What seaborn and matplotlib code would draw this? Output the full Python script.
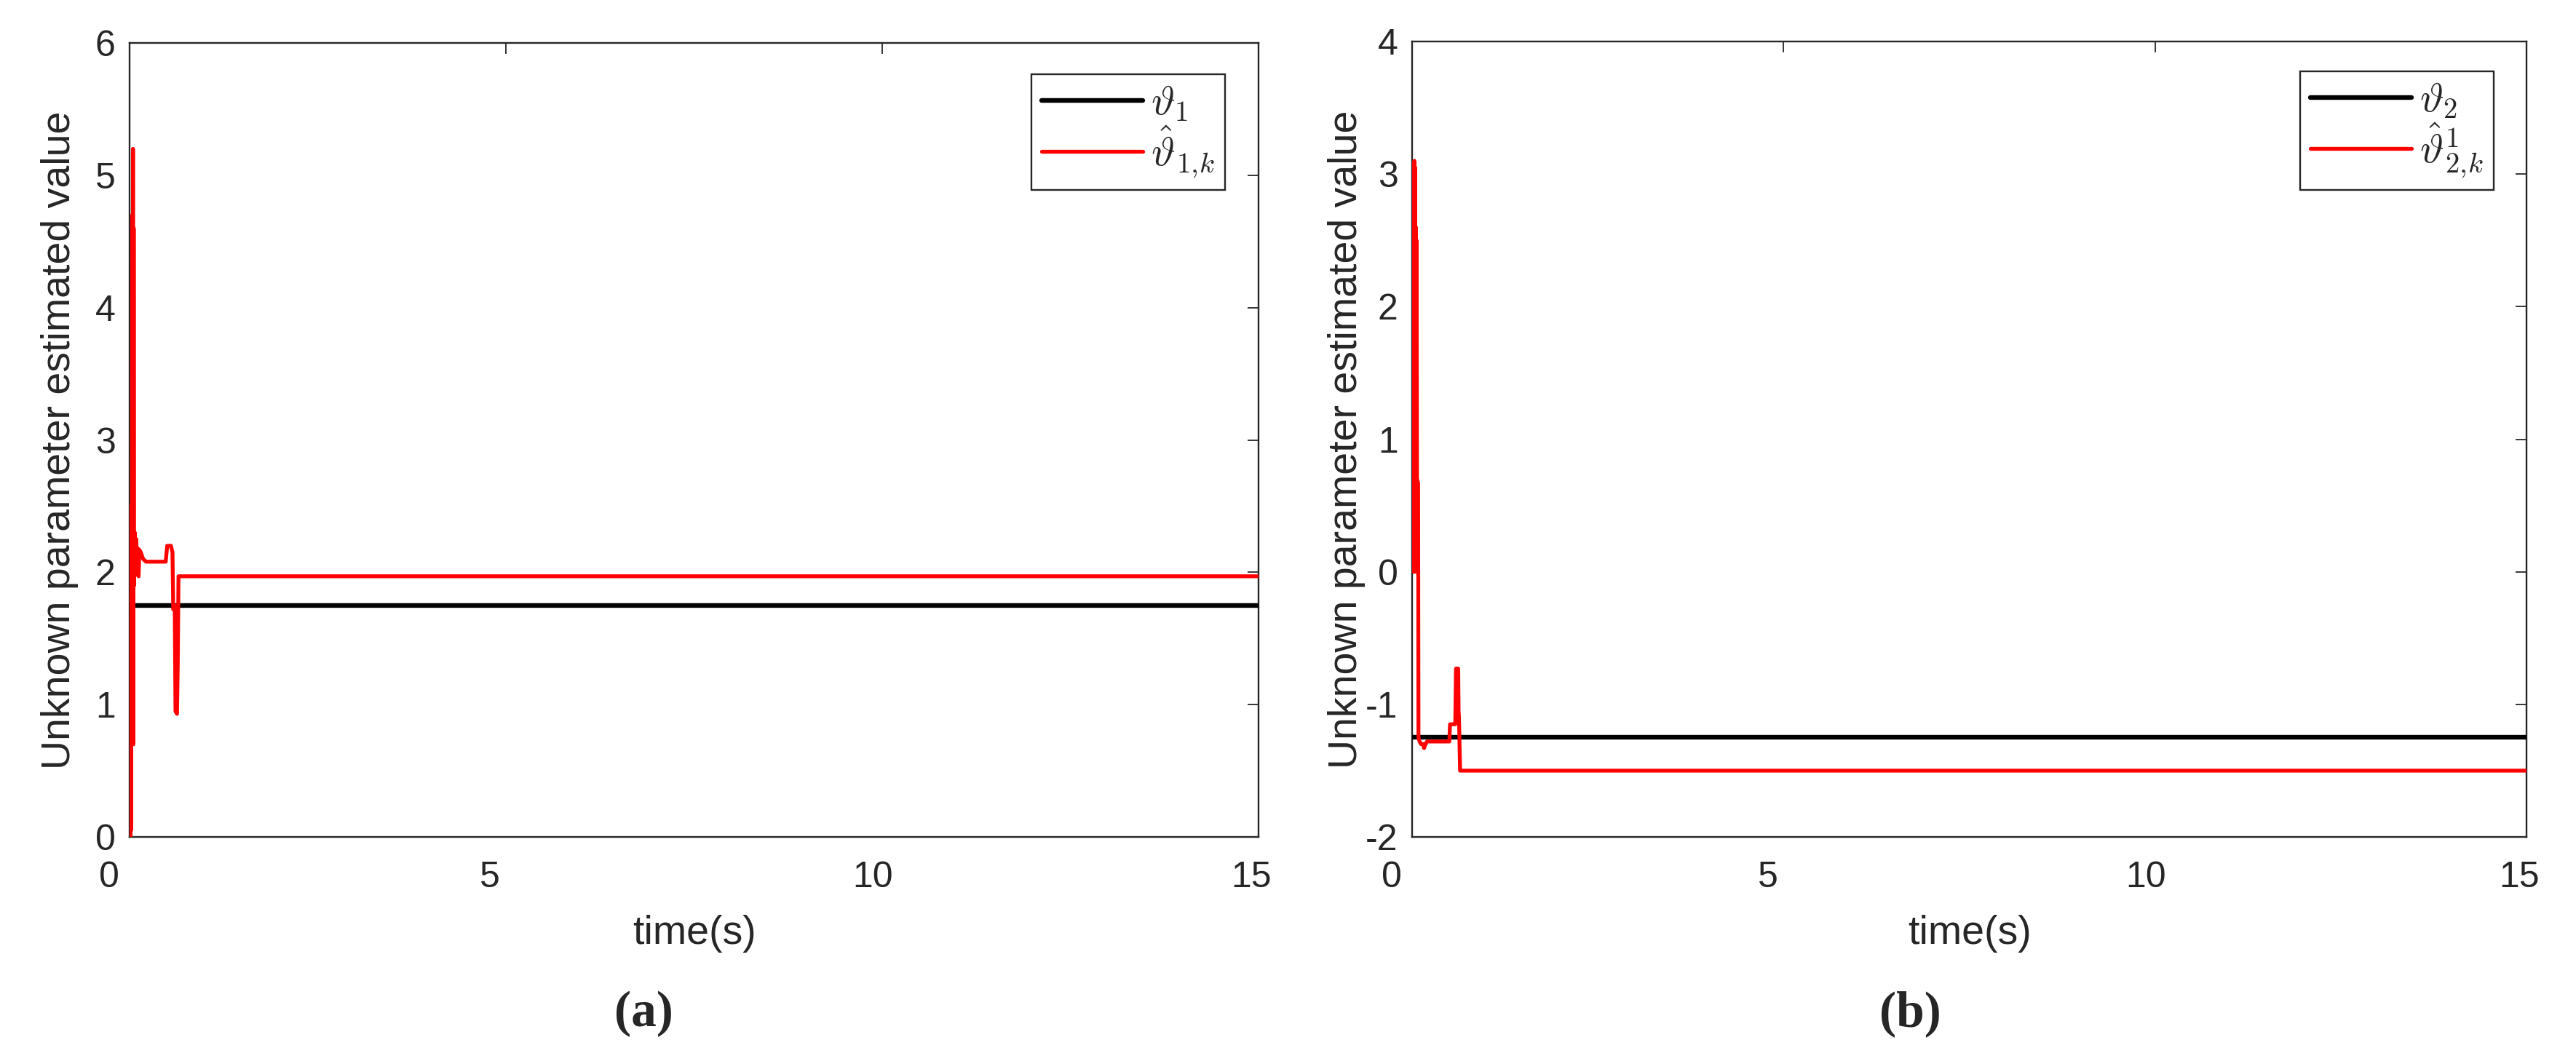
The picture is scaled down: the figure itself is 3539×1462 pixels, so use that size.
import numpy as np
import pandas as pd
import matplotlib
matplotlib.use("Agg")
import matplotlib.pyplot as plt
import matplotlib.transforms as mtransforms
import seaborn as sns

sns.set_theme(style="white")
plt.rcParams['font.family'] = ['Liberation Sans', 'DejaVu Sans']
plt.rcParams['mathtext.fontset'] = 'cm'
plt.rcParams['axes.unicode_minus'] = False

# ---------------- data ----------------
# panel (a): true parameter and its estimate
t_true_a = [0.0, 15.0]
theta1 = [1.75, 1.75]

t_est_a = [0.000, 0.005, 0.010, 0.015, 0.020, 0.025, 0.030, 0.035, 0.040, 0.045,
           0.050, 0.055, 0.060, 0.070, 0.080, 0.090, 0.100, 0.110, 0.120, 0.130,
           0.150, 0.180, 0.220, 0.480, 0.500, 0.550, 0.570, 0.580, 0.600, 0.610,
           0.630, 0.640, 0.650, 15.00]
theta1_hat = [0.00, 2.50, 0.00, 2.45, 0.05, 2.30, 0.70, 4.70, 1.50, 5.20,
              0.70, 4.60, 1.90, 2.30, 1.98, 2.25, 2.00, 2.18, 1.97, 2.17,
              2.15, 2.10, 2.08, 2.08, 2.20, 2.20, 2.15, 1.72, 1.75, 0.95,
              0.93, 1.30, 1.97, 1.97]

# panel (b)
t_true_b = [0.0, 15.0]
theta2 = [-1.25, -1.25]

t_est_b = [0.000, 0.005, 0.010, 0.015, 0.020, 0.025, 0.030, 0.035, 0.040, 0.045,
           0.050, 0.055, 0.060, 0.065, 0.080, 0.085, 0.100, 0.120, 0.150, 0.160,
           0.180, 0.200, 0.500, 0.510, 0.550, 0.580, 0.590, 0.620, 0.625, 0.630,
           0.645, 15.00]
theta2_hat = [2.10, 2.50, 2.15, 2.45, 0.00, 2.60, 3.10, 0.00, 3.05, 0.05,
              2.60, 0.00, 2.50, 0.70, 0.67, -1.25, -1.28, -1.30, -1.30, -1.33,
              -1.30, -1.28, -1.28, -1.15, -1.15, -1.15, -0.73, -0.73, -1.05, -1.10,
              -1.50, -1.50]

x_ticks = [0, 5, 10, 15]
y_ticks_a = [0, 1, 2, 3, 4, 5, 6]
y_ticks_b = [-2, -1, 0, 1, 2, 3, 4]

DARK = '#262626'
# in the original the x tick labels sit a little left of their ticks (inches)
xlabel_nudge = [-0.28, -0.22, -0.13, -0.10]

fig = plt.figure(figsize=(35.39, 14.62), dpi=100)
ax_a = fig.add_axes([0.0503, 0.2134, 0.4383, 0.7462])
ax_b = fig.add_axes([0.5482, 0.2134, 0.4326, 0.7476])


def draw_panel(ax, t_true, v_true, t_est, v_est, lab_true, lab_est, ylim, yticks,
               leg_anchor, ylab_x):
    df_true = pd.DataFrame({'t': t_true, 'v': v_true})
    df_est = pd.DataFrame({'t': t_est, 'v': v_est})
    sns.lineplot(data=df_true, x='t', y='v', ax=ax, color='black', lw=4.6,
                 estimator=None, sort=False, label=lab_true, zorder=3)
    sns.lineplot(data=df_est, x='t', y='v', ax=ax, color='#ff0000', lw=3.8,
                 estimator=None, sort=False, label=lab_est, zorder=3)

    ax.set_xlim(0, 15)
    ax.set_ylim(*ylim)
    ax.set_xticks(x_ticks)
    ax.set_yticks(yticks)
    ax.tick_params(direction='in', length=11, width=1.3, colors=DARK,
                   labelsize=36, top=True, right=True, pad=14)
    ax.tick_params(axis='x', pad=24)
    for lbl, dx in zip(ax.get_xticklabels(), xlabel_nudge):
        shift = mtransforms.ScaledTranslation(dx, 0, fig.dpi_scale_trans)
        lbl.set_transform(lbl.get_transform() + shift)
    for sp in ax.spines.values():
        sp.set_color(DARK)
        sp.set_linewidth(1.7)

    ax.set_xlabel('time(s)', fontsize=40, color=DARK)
    ax.set_ylabel('Unknown parameter estimated value', fontsize=40, color=DARK)
    ax.xaxis.label.set_va('center')
    ax.xaxis.set_label_coords(0.5, -0.122)
    ax.yaxis.label.set_va('center')
    ax.yaxis.set_label_coords(ylab_x, 0.5)

    leg = ax.legend(loc='upper right', bbox_to_anchor=leg_anchor, borderaxespad=0,
                    fontsize=40, frameon=True, fancybox=False, framealpha=1,
                    edgecolor=DARK, handlelength=2.5, handletextpad=0.2,
                    borderpad=0.25, labelspacing=0.02)
    leg.get_frame().set_linewidth(1.7)


draw_panel(ax_a, t_true_a, theta1, t_est_a, theta1_hat,
           r'$\vartheta_1$', r'$\hat{\vartheta}_{1,\!k}$',
           (0, 6), y_ticks_a, (0.9704, 0.9606), -0.062)
draw_panel(ax_b, t_true_b, theta2, t_est_b, theta2_hat,
           r'$\vartheta_2$', r'$\hat{\vartheta}^{1}_{2,\!k}$',
           (-2, 4), y_ticks_b, (0.9706, 0.9625), -0.059)

fig.text(884 / 3539, 1 - 1393 / 1462, '(a)', ha='center', va='center',
         fontsize=50, fontweight='bold', family=['Liberation Serif', 'DejaVu Serif'])
fig.text(2624 / 3539, 1 - 1393 / 1462, '(b)', ha='center', va='center',
         fontsize=50, fontweight='bold', family=['Liberation Serif', 'DejaVu Serif'])

fig.savefig('out.png', dpi=100, facecolor='white')
